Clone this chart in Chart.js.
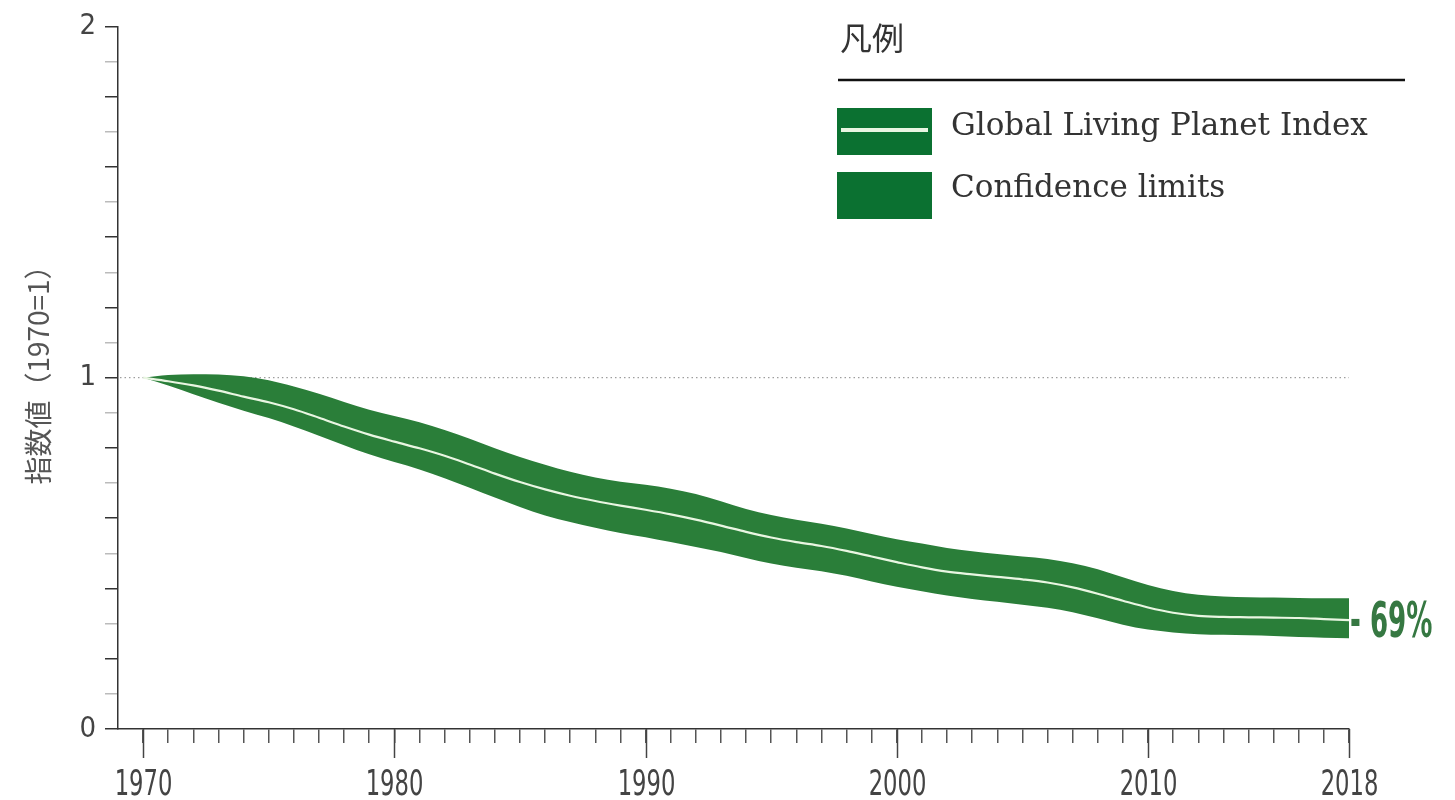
<!DOCTYPE html>
<html>
<head>
<meta charset="utf-8">
<title>Living Planet Index</title>
<script src="https://cdn.jsdelivr.net/npm/chart.js@4.4.1/dist/chart.umd.min.js"></script>
<style>
  html, body { margin: 0; padding: 0; background: #fff; }
  #wrap { width: 1455px; height: 800px; position: relative; }
</style>
</head>
<body>
<div id="wrap"><canvas id="lpiChart"></canvas></div>
<script>
// Datos (índice 1970 = 1)
const years = [];
for (let y = 1970; y <= 2018; y++) years.push(y);

const indexValues = [
  1.000, 0.990, 0.978, 0.963, 0.946, 0.930, 0.910, 0.886, 0.861, 0.838,
  0.818, 0.799, 0.778, 0.753, 0.727, 0.703, 0.682, 0.664, 0.649, 0.636,
  0.624, 0.611, 0.596, 0.579, 0.561, 0.545, 0.532, 0.521, 0.507, 0.491,
  0.475, 0.460, 0.448, 0.440, 0.433, 0.426, 0.417, 0.403, 0.385, 0.365,
  0.346, 0.331, 0.322, 0.319, 0.318, 0.317, 0.316, 0.313, 0.310
];
const upperLimits = [
  1.000, 1.008, 1.010, 1.009, 1.004, 0.993, 0.975, 0.954, 0.931, 0.909,
  0.891, 0.873, 0.851, 0.826, 0.799, 0.774, 0.752, 0.732, 0.716, 0.704,
  0.695, 0.684, 0.669, 0.648, 0.626, 0.609, 0.596, 0.584, 0.571, 0.555,
  0.540, 0.528, 0.515, 0.506, 0.498, 0.491, 0.484, 0.472, 0.455, 0.432,
  0.410, 0.393, 0.382, 0.377, 0.375, 0.374, 0.373, 0.372, 0.372
];
const lowerLimits = [
  1.000, 0.978, 0.953, 0.929, 0.906, 0.885, 0.861, 0.835, 0.808, 0.782,
  0.760, 0.739, 0.714, 0.687, 0.659, 0.632, 0.608, 0.589, 0.573, 0.558,
  0.546, 0.532, 0.518, 0.504, 0.487, 0.471, 0.459, 0.449, 0.436, 0.420,
  0.405, 0.392, 0.380, 0.370, 0.362, 0.354, 0.345, 0.332, 0.315, 0.297,
  0.283, 0.275, 0.270, 0.268, 0.267, 0.265, 0.262, 0.260, 0.258
];

// Etiquetas
const xTickLabels = [1970, 1980, 1990, 2000, 2010, 2018];
const yTickLabels = [0, 1, 2];
const yTitle = '指数値（1970=1）';
const legendTitle = '凡例';
const seriesNames = ['Global Living Planet Index', 'Confidence limits'];
const changeLabel = '- 69%';

// Colores
const palette = {
  band: '#2a7e39',
  legendBox: '#0b7131',
  line: '#e9f6e2',
  axis: '#333',
  text: '#444',
  label: '#367842'
};
const narrow = '"DejaVu Sans Condensed", "Liberation Sans Narrow", sans-serif';

const toPoints = arr => arr.map((v, i) => ({ x: years[i], y: v }));

// texto comprimido horizontalmente (fuente condensada del original)
function narrowText(ctx, text, x, y, sx) {
  ctx.save();
  ctx.translate(x, y);
  ctx.scale(sx, 1);
  ctx.fillText(text, 0, 0);
  ctx.restore();
}

// Plugin: línea punteada, ticks mayores, etiquetas, título del eje, leyenda y -69%
const decorations = {
  id: 'decorations',
  beforeDatasetsDraw(chart) {
    const { ctx, scales: { x, y } } = chart;
    ctx.save();
    ctx.strokeStyle = '#888';
    ctx.lineWidth = 1;
    ctx.setLineDash([1.5, 3]);
    ctx.beginPath();
    ctx.moveTo(chart.chartArea.left + 2, y.getPixelForValue(1));
    ctx.lineTo(x.getPixelForValue(2018), y.getPixelForValue(1));
    ctx.stroke();
    ctx.restore();
  },
  afterDraw(chart) {
    const { ctx, chartArea, scales: { x, y } } = chart;
    ctx.save();

    // ticks largos de las décadas y sus etiquetas
    ctx.strokeStyle = '#444';
    ctx.lineWidth = 1.5;
    ctx.fillStyle = palette.text;
    ctx.font = '36px ' + narrow;
    ctx.textAlign = 'center';
    ctx.textBaseline = 'middle';
    xTickLabels.forEach(v => {
      const px = Math.round(x.getPixelForValue(v)) + 0.5;
      ctx.beginPath();
      ctx.moveTo(px, chartArea.bottom);
      ctx.lineTo(px, chartArea.bottom + 29);
      ctx.stroke();
      narrowText(ctx, String(v), px, 786, 0.7);
    });

    // título del eje Y
    ctx.fillStyle = '#555';
    ctx.font = '28px "Noto Sans CJK JP", sans-serif';
    ctx.translate(38, 368);
    ctx.rotate(-Math.PI / 2);
    ctx.fillText(yTitle, 0, 0);
    ctx.setTransform(1, 0, 0, 1, 0, 0);

    // leyenda
    ctx.textAlign = 'left';
    ctx.fillStyle = '#333';
    ctx.font = '32px "Noto Sans CJK JP", sans-serif';
    ctx.fillText(legendTitle, 840, 38);
    ctx.strokeStyle = '#111';
    ctx.lineWidth = 2.5;
    ctx.beginPath();
    ctx.moveTo(838, 80);
    ctx.lineTo(1405, 80);
    ctx.stroke();

    ctx.fillStyle = palette.legendBox;
    ctx.fillRect(837, 108, 95, 47);
    ctx.fillRect(837, 172, 95, 47);
    ctx.strokeStyle = palette.line;
    ctx.lineWidth = 4;
    ctx.beginPath();
    ctx.moveTo(841, 130);
    ctx.lineTo(928, 130);
    ctx.stroke();

    ctx.fillStyle = '#333';
    ctx.font = '31px "DejaVu Serif", serif';
    ctx.fillText(seriesNames[0], 951, 127);
    ctx.fillText(seriesNames[1], 951, 189);

    // etiqueta final
    const last = indexValues.length - 1;
    ctx.fillStyle = palette.label;
    ctx.font = 'bold 50px ' + narrow;
    narrowText(ctx, changeLabel, x.getPixelForValue(years[last]) + 1, y.getPixelForValue(indexValues[last]) + 4, 0.58);

    ctx.restore();
  }
};

const ctx = document.getElementById('lpiChart');
new Chart(ctx, {
  type: 'line',
  data: {
    datasets: [
      {
        label: seriesNames[1] + ' (lower)',
        data: toPoints(lowerLimits),
        borderWidth: 0,
        pointRadius: 0,
        fill: false,
        order: 2
      },
      {
        label: seriesNames[1],
        data: toPoints(upperLimits),
        borderWidth: 0,
        pointRadius: 0,
        backgroundColor: palette.band,
        fill: '-1',
        order: 1
      },
      {
        label: seriesNames[0],
        data: toPoints(indexValues),
        borderColor: palette.line,
        borderWidth: 2.2,
        pointRadius: 0,
        fill: false,
        order: 0
      }
    ]
  },
  options: {
    responsive: true,
    maintainAspectRatio: false,
    animation: false,
    elements: { line: { cubicInterpolationMode: 'monotone' } },
    layout: { padding: { top: 26, right: 106, left: 0, bottom: 0 } },
    plugins: { legend: { display: false }, tooltip: { enabled: false } },
    scales: {
      x: {
        type: 'linear',
        min: 1969,
        max: 2018,
        afterFit: s => { s.height = 71; },
        ticks: {
          display: false,
          stepSize: 1,
          autoSkip: false,
          maxRotation: 0
        },
        grid: {
          drawOnChartArea: false,
          tickLength: 14,
          lineWidth: 1.5,
          color: c => c.tick && c.tick.value === 1969 ? 'rgba(0,0,0,0)' : '#555'
        },
        border: { display: true, color: palette.axis, width: 1.5 }
      },
      y: {
        min: 0,
        max: 2,
        afterFit: s => { s.width = 118; },
        ticks: {
          stepSize: 0.1,
          autoSkip: false,
          padding: 9,
          color: palette.text,
          font: { family: narrow, size: 29 },
          callback: v => {
            const r = Math.round(v);
            return Math.abs(v - r) < 1e-6 && yTickLabels.includes(r) ? String(r) : '';
          }
        },
        grid: {
          drawOnChartArea: false,
          tickLength: 13,
          lineWidth: 1.5,
          color: c => c.tick && Math.round(c.tick.value * 10) % 2 === 0 ? '#333' : '#bbb'
        },
        border: { display: true, color: palette.axis, width: 1.5 }
      }
    }
  },
  plugins: [decorations]
});
</script>
</body>
</html>
